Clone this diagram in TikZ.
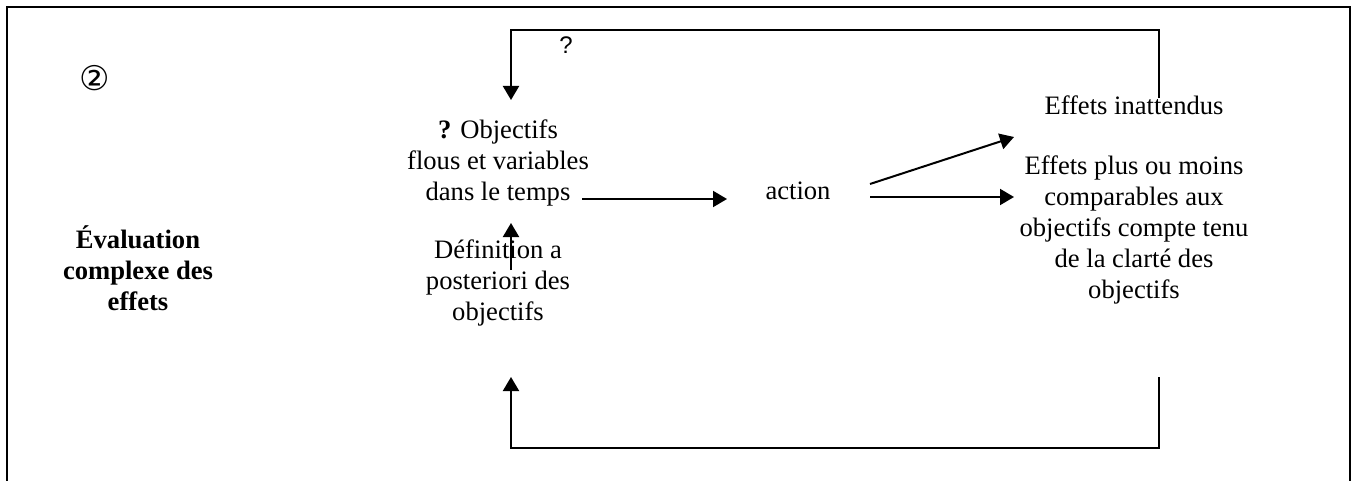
\documentclass[tikz,border=0pt]{standalone}
\usepackage{fontspec}
\setmainfont{Liberation Serif}
\newfontfamily\symfont{DejaVu Sans}
\newfontfamily\arialfont{Liberation Sans}
\usetikzlibrary{arrows.meta}
\tikzset{
  txt/.style={align=center, inner sep=0pt, font=\fontsize{13.3}{15.5}\selectfont},
  boldtxt/.style={txt, font=\fontsize{13.3}{15.5}\selectfont\bfseries},
  link/.style={line width=1pt},
  arr/.style={link, -{Triangle[length=7pt,width=8pt]}},
  frame/.style={line width=1.3pt}
}
\begin{document}
\begin{tikzpicture}[x=0.5pt, y=-0.5pt]
  \useasboundingbox (0,0) rectangle (1354,481);
  % outer frame, open at the bottom
  \draw[frame] (7,490) -- (7,7) -- (1350,7) -- (1350,490);

  % labels
  \node[font=\symfont\fontsize{17}{17}\selectfont, inner sep=0pt] (num) at (95,78) {②};
  \node[boldtxt] (eval) at (138,268) {Évaluation\\complexe des\\effets};
  \node[txt] (obj) at (498,163) {\textbf{?} Objectifs\\flous et variables\\dans le temps};
  \node[txt] (def) at (498,283) {Définition a\\posteriori des\\objectifs};
  \node[txt] (act) at (798,191) {action};
  \node[txt] (inat) at (1134,105) {Effets inattendus};
  \node[txt] (comp) at (1134,230) {Effets plus ou moins\\comparables aux\\objectifs compte tenu\\de la clarté des\\objectifs};
  \node[font=\arialfont\fontsize{12}{12}\selectfont, inner sep=0pt] (q) at (566,45) {?};

  % connector end points
  \coordinate (objout) at (582,199);
  \coordinate (actin) at (727,199);
  \coordinate (defout) at (511,270);
  \coordinate (objin) at (511,223);
  \coordinate (actout1) at (870,184);
  \coordinate (inatin) at (1014,137);
  \coordinate (actout2) at (870,197);
  \coordinate (compin) at (1014,197);
  \coordinate (inatout) at (1159,98);
  \coordinate (objtop) at (511,100);
  \coordinate (compout) at (1159,377);
  \coordinate (defin) at (511,377);

  % connectors
  \draw[arr] (objout) -- (actin);
  \draw[arr] (defout) -- (objin);
  \draw[arr] (actout1) -- (inatin);
  \draw[arr] (actout2) -- (compin);
  \draw[arr] (inatout) |- (511,30) -- (objtop);
  \draw[arr] (compout) |- (511,448) -- (defin);
\end{tikzpicture}
\end{document}
